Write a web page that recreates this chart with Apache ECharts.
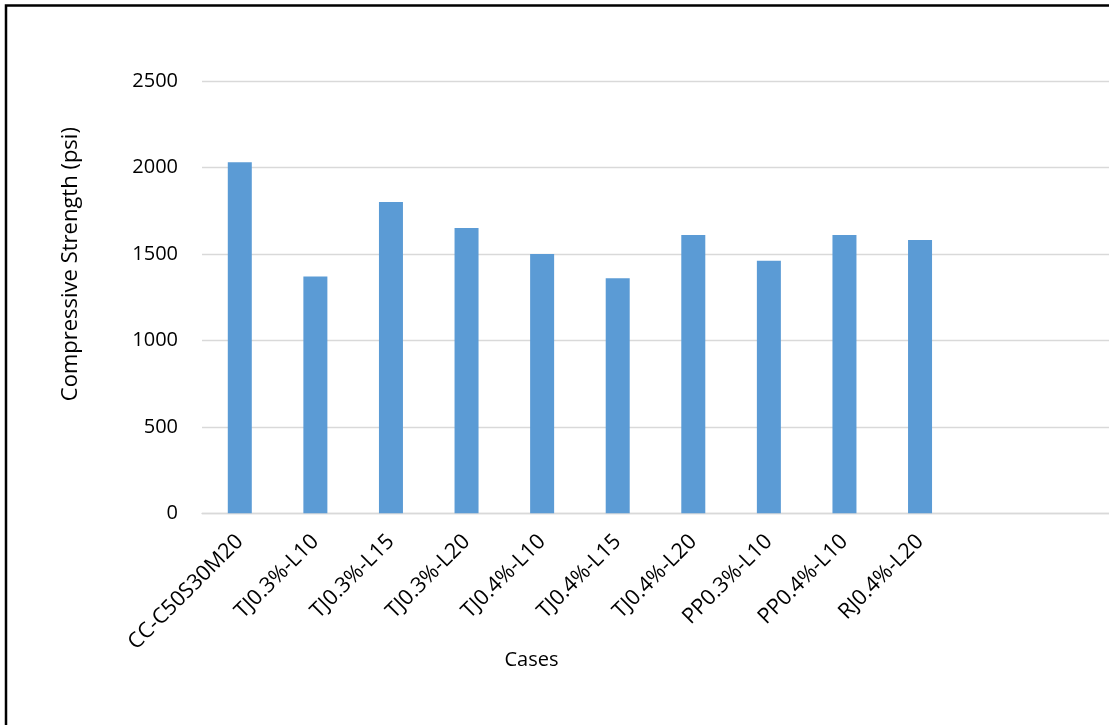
<!DOCTYPE html>
<html>
<head>
<meta charset="utf-8">
<script src="https://cdn.jsdelivr.net/npm/echarts@6/dist/echarts.min.js"></script>
<style>
html,body{margin:0;padding:0;background:#fff;}
#chart{width:1109px;height:725px;}
</style>
</head>
<body>
<div id="chart"></div>
<script>
// Data
const categories = ['CC-C50S30M20','TJ0.3%-L10','TJ0.3%-L15','TJ0.3%-L20','TJ0.4%-L10','TJ0.4%-L15','TJ0.4%-L20','PP0.3%-L10','PP0.4%-L10','RJ0.4%-L20','',''];
const strength = [2030,1370,1800,1650,1500,1360,1610,1460,1610,1580,null,null];
const yTicks = [0,500,1000,1500,2000,2500];
const yAxisTitle = 'Compressive Strength (psi)';
const xAxisTitle = 'Cases';

const chart = echarts.init(document.getElementById('chart'));
const FONT = 'Open Sans';
chart.setOption({
  animation:false,
  backgroundColor:'#fff',
  graphic:[{
    type:'rect', silent:true, z:100,
    shape:{x:6, y:5.5, width:1300, height:900},
    style:{fill:'none', stroke:'#000', lineWidth:2.5}
  }],
  grid:{left:202, top:81, width:914, height:432.3, containLabel:false},
  xAxis:{
    type:'category', data:categories,
    axisLine:{show:true, lineStyle:{color:'#d9d9d9', width:1.3}},
    axisTick:{show:false},
    axisLabel:{rotate:45, interval:0, margin:25, color:'#000', fontFamily:FONT, fontSize:21.5},
    name:xAxisTitle, nameLocation:'middle', nameGap:137, nameMoveOverlap:false,
    nameTextStyle:{color:'#000', fontFamily:FONT, fontSize:20, padding:[0,248,0,0]}
  },
  yAxis:{
    type:'value', min:yTicks[0], max:yTicks[yTicks.length-1], interval:500,
    axisLine:{show:false}, axisTick:{show:false},
    splitLine:{lineStyle:{color:'#d9d9d9', width:1.3}},
    axisLabel:{margin:24, color:'#000', fontFamily:FONT, fontSize:20, formatter:v=>String(v)},
    name:yAxisTitle, nameLocation:'middle', nameGap:120, nameRotate:90, nameMoveOverlap:false,
    nameTextStyle:{color:'#000', fontFamily:FONT, fontSize:22, padding:[0,0,0,66]}
  },
  series:[{
    type:'bar', data:strength, barWidth:24,
    itemStyle:{color:'#5b9bd5'}
  }]
});
</script>
</body>
</html>
